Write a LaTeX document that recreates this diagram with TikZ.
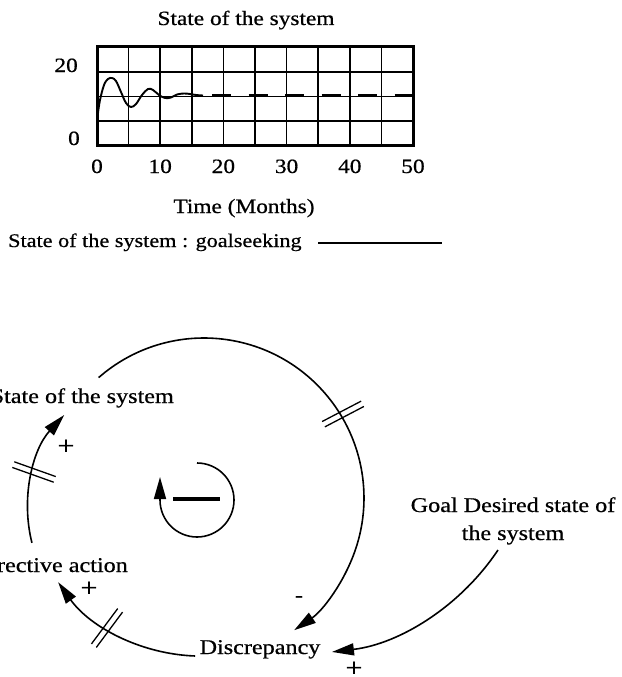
\documentclass[tikz,border=0pt]{standalone}
\usepackage{fontspec}
\setmainfont{Liberation Serif}[FakeStretch=1.15,FakeBold=0.6]
\usetikzlibrary{arrows.meta,calc}
\tikzset{
  lbl/.style={inner sep=0pt, font=\fontsize{21}{28}\selectfont},
  sign/.style={inner sep=0pt, font=\fontsize{26}{28}\selectfont},
  chartlbl/.style={inner sep=0pt, font=\fontsize{20.3}{24}\selectfont},
  legendlbl/.style={inner sep=0pt, font=\fontsize{19.3}{23}\selectfont},
  link/.style={line width=1.6pt, -{Triangle[length=22pt,width=12pt]}},
  slash/.style={line width=1.3pt},
  gridline/.style={line width=1.7pt},
  frame/.style={line width=3pt},
  dataline/.style={line width=1.9pt, line join=round},
}
\begin{document}
\begin{tikzpicture}[x=1pt,y=1pt]
\useasboundingbox (0,0) rectangle (621,-677);

% ---------- chart ----------
\foreach \i in {1,...,9} \draw[gridline] ({97+31.6*\i},-47) -- ({97+31.6*\i},-145);
\foreach \j in {1,2,3} \draw[gridline] (97,{-47.5-24.5*\j}) -- (413,{-47.5-24.5*\j});
\draw[frame] (97,-47) rectangle (413,-145);

\draw[dataline] plot[smooth, tension=0.6] coordinates {(98,-113) (100,-100) (104,-85) (108,-79) (112,-78) (116,-81) (121,-92) (126,-103) (131,-107) (136,-104) (142,-95) (148,-89) (153,-90) (159,-95) (165,-98) (171,-97.5) (177,-94.5) (184,-93.5) (190,-94) (196,-95) (203,-95.5)};
\draw[dataline, line width=2.2pt, dash pattern=on 19pt off 17.5pt] (212,-94.8) -- (413,-94.8);

\node[chartlbl, anchor=base] (title) at (246,-25) {State of the system};
\node[chartlbl, anchor=base east] (y20) at (78,-72) {20};
\node[chartlbl, anchor=base east] (y0) at (80,-145) {0};
\foreach \v [count=\k from 0] in {0,10,20,30,40,50}
  \node[chartlbl, anchor=base] (x\v) at ({97+63.2*\k},-173) {\v};
\node[chartlbl, anchor=base] (xlab) at (244,-213) {Time (Months)};
\node[legendlbl, anchor=base west] (legend) at (8,-247) {State of the system : goalseeking};
\coordinate (legA) at (318,-243);
\coordinate (legB) at (442,-243);
\draw[line width=1.6pt] (legA) -- (legB);

% ---------- causal loop ----------
\node[lbl, anchor=base east] (sys) at (174,-403) {State of the system};
\node[lbl, anchor=base east] (corr) at (128,-572) {Corrective action};
\node[lbl, anchor=base] (disc) at (260,-654) {Discrepancy};
\node[lbl, align=center, anchor=base] (goal) at (513,-540) {Goal Desired state of\\the system};

\node[sign] (p1) at (66,-447) {+};
\node[sign] (p2) at (89,-589) {+};
\node[lbl] (m1) at (299,-599) {-};
\node[sign] (p3) at (354,-669) {+};

\coordinate (sysOut) at ($(204,-498)+(131.2:160)$);
\draw[link] (sysOut) arc[start angle=131.2, end angle=-55.7, radius=160];

\coordinate (discOut) at ($(201.3,-480.5)+(268:175.6)$);
\draw[link] (discOut) arc[start angle=268, end angle=215.4, radius=175.6];

\coordinate (corrOut) at ($(166.5,-508.8)+(194.2:138.8)$);
\draw[link] (corrOut) arc[start angle=194.2, end angle=137.5, radius=138.8];

\coordinate (goalOut) at ($(304.4,-420.9)+(-33.7:232.7)$);
\draw[link] (goalOut) arc[start angle=-33.7, end angle=-83.2, radius=232.7];

% loop polarity
\coordinate (loopTop) at (197,-463);
\draw[link] (loopTop) arc[start angle=90, end angle=-180, radius=37] -- ++(0,23);
\draw[line width=3.4pt] (173,-499) -- (220,-499);

% delay marks
\draw[slash, shift={(34,-472)}, rotate=-19.6] (-22,-3) -- (22,-3) (-22,3) -- (22,3);
\draw[slash, shift={(343,-414)}, rotate=27.6] (-22,-3) -- (22,-3) (-22,3) -- (22,3);
\draw[slash, shift={(107,-628)}, rotate=53.4] (-22,-3) -- (22,-3) (-22,3) -- (22,3);
\end{tikzpicture}
\end{document}
